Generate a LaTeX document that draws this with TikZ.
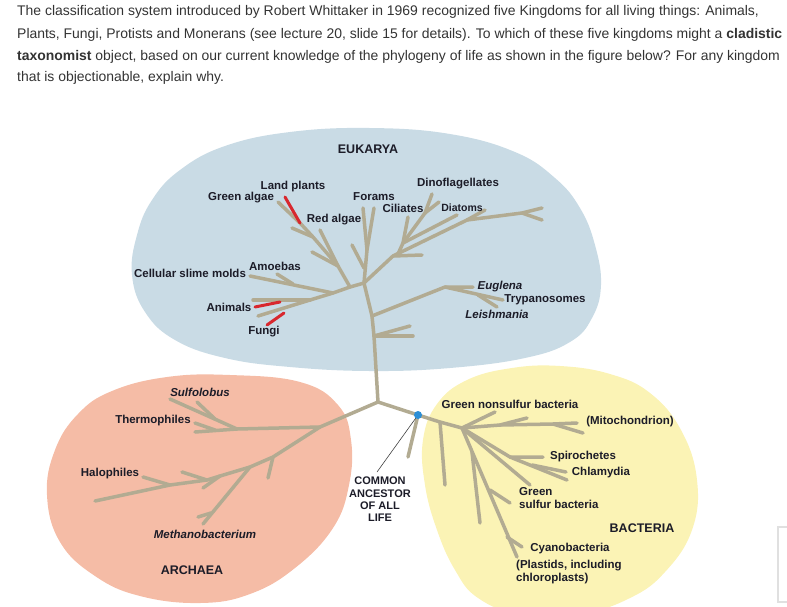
\documentclass[tikz,border=0pt]{standalone}
\usepackage{fontspec}
\setmainfont{Liberation Sans}
\definecolor{eukc}{HTML}{C9DBE5}
\definecolor{arcc}{HTML}{F5BCA6}
\definecolor{bacc}{HTML}{FBF3B5}
\definecolor{treec}{HTML}{B2AB92}
\definecolor{redc}{HTML}{D8282E}
\definecolor{dotc}{HTML}{2B8ED6}
\definecolor{labc}{HTML}{1C1C28}
\definecolor{headc}{HTML}{333333}
\tikzset{
  tree/.style={draw=treec,line width=3.5pt,line cap=round,line join=round},
  redb/.style={draw=redc,line width=3pt,line cap=round},
  lab/.style={font=\bfseries\fontsize{11.5}{13}\selectfont,text=labc,inner sep=0pt},
  itl/.style={font=\bfseries\itshape\fontsize{11.5}{13}\selectfont,text=labc,inner sep=0pt},
  dom/.style={font=\bfseries\fontsize{12.5}{14}\selectfont,text=labc,inner sep=0pt},
  head/.style={font=\fontsize{13.95}{16}\selectfont,text=headc,inner sep=0pt,anchor=west},
}
\begin{document}
\begin{tikzpicture}[x=1pt,y=-1pt]
\useasboundingbox (0,0) rectangle (787,606);
\clip (0,0) rectangle (787,606);
% header text
\node[head] (h1) at (17,12) {The classification system introduced by Robert Whittaker in 1969 recognized five Kingdoms for all living things: Animals,};
\node[head] (h2) at (17,35) {Plants, Fungi, Protists and Monerans (see lecture 20, slide 15 for details). To which of these five kingdoms might a \textbf{cladistic}};
\node[head] (h3) at (17,57) {\textbf{taxonomist} object, based on our current knowledge of the phylogeny of life as shown in the figure below? For any kingdom};
\node[head] (h4) at (17,78) {that is objectionable, explain why.};
% domain regions
\fill[eukc] plot[smooth cycle,tension=0.7] coordinates {(132,275) (137,235) (152,200) (180,170) (225,146) (290,132) (370,128) (450,134) (515,152) (555,178) (580,208) (595,245) (601,285) (592,318) (570,342) (525,358) (450,368) (370,371) (290,367) (225,358) (175,340) (145,312)};
\fill[arcc] plot[smooth cycle,tension=0.7] coordinates {(230,375) (300,382) (338,405) (351,440) (349,485) (333,528) (295,568) (250,594) (200,603) (140,596) (95,576) (60,542) (47,495) (55,450) (78,414) (112,391) (167,377)};
\fill[bacc] plot[smooth cycle,tension=0.7] coordinates {(423,440) (437,404) (467,380) (512,368) (560,366) (610,374) (650,393) (681,430) (697,480) (692,530) (665,572) (630,598) (580,614) (520,614) (478,598) (455,570) (437,530) (425,485)};
% faint box at right edge
\draw[draw=black!12,line width=1.3pt] (778,527) rectangle (800,602);
% ---------- coordinates ----------
\coordinate (R) at (378,402);
\coordinate (T1) at (374,336);
\coordinate (T2) at (372,316);
\coordinate (E) at (364,283);
\coordinate (LS1) at (410,326);
\coordinate (LS2) at (413,336);
\coordinate (EJ) at (445,287);
\coordinate (EU) at (473,287);
\coordinate (TR) at (503,300);
\coordinate (LJ) at (478,295);
\coordinate (LE) at (497,307);
\coordinate (FO) at (367,250);
\coordinate (FO1) at (363,208);
\coordinate (FO2) at (374,208);
\coordinate (FS0) at (364,268);
\coordinate (FS) at (352,245);
\coordinate (A1) at (393,256);
\coordinate (A3) at (467,220);
\coordinate (A4) at (522,213);
\coordinate (A5) at (542,208);
\coordinate (A6) at (542,220);
\coordinate (A1s) at (422,255);
\coordinate (M1) at (398,254);
\coordinate (F) at (403,243);
\coordinate (CI) at (408,217);
\coordinate (G) at (425,213);
\coordinate (DI1) at (432,194);
\coordinate (DI2) at (439,202);
\coordinate (DT) at (457,215);
\coordinate (DTs) at (485,210);
\coordinate (P) at (350,287);
\coordinate (S) at (333,293);
\coordinate (L) at (310,300);
\coordinate (LO) at (258,316);
\coordinate (SM) at (250,276);
\coordinate (AM0) at (293,284);
\coordinate (AM) at (277,274);
\coordinate (AN) at (253,300);
\coordinate (RA1) at (255,307);
\coordinate (RA2) at (280,302);
\coordinate (RF1) at (267,325);
\coordinate (RF2) at (284,313);
\coordinate (Q1) at (338,266);
\coordinate (Q2) at (313,237);
\coordinate (Q3) at (300,223);
\coordinate (GA) at (278,202);
\coordinate (LP) at (285,197);
\coordinate (RAL) at (320,230);
\coordinate (QS) at (312,252);
\coordinate (QS2) at (292,228);
% archaea
\coordinate (AJ) at (320,427);
\coordinate (AH1) at (237,429);
\coordinate (TH) at (195,432);
\coordinate (SU) at (170,399);
\coordinate (SUs0) at (215,419);
\coordinate (SUs) at (197,402);
\coordinate (THs0) at (215,430);
\coordinate (THs) at (195,423);
\coordinate (AK1) at (273,457);
\coordinate (AK2) at (250,467);
\coordinate (AK3) at (220,476);
\coordinate (AK4) at (207,480);
\coordinate (AK5) at (170,485);
\coordinate (HA) at (95,501);
\coordinate (AK1s) at (268,478);
\coordinate (ME) at (203,524);
\coordinate (MEs0) at (211,513);
\coordinate (MEs) at (198,517);
\coordinate (AK3s) at (203,488);
\coordinate (HAs) at (143,477);
\coordinate (HAs2) at (182,472);
% bacteria
\coordinate (D) at (418,415);
\coordinate (B1) at (440,422);
\coordinate (BJ) at (462,428);
\coordinate (Ds) at (408,457);
\coordinate (B1s) at (445,485);
\coordinate (GN) at (495,412);
\coordinate (BM1) at (500,425);
\coordinate (BM2) at (553,424);
\coordinate (MI) at (577,423);
\coordinate (BM1s) at (527,418);
\coordinate (BM2s) at (583,433);
\coordinate (SP) at (510,457);
\coordinate (SPe) at (543,457);
\coordinate (CH) at (567,480);
\coordinate (CHs0) at (532,465);
\coordinate (CHs) at (566,472);
\coordinate (GS) at (530,485);
\coordinate (CY) at (517,557);
\coordinate (CY1) at (472,452);
\coordinate (CY1e) at (480,523);
\coordinate (CY2) at (490,490);
\coordinate (CY2e) at (510,503);
\coordinate (CY3) at (507,537);
\coordinate (CY3e) at (522,547);
\coordinate (PT) at (377,472);
% ---------- tree ----------
\draw[tree] (R) -- (T1) -- (T2) -- (E);
\draw[tree] (T1) -- (LS1);
\draw[tree] (T1) -- (LS2);
\draw[tree] (T2) -- (EJ) -- (EU);
\draw[tree] (EJ) -- (TR);
\draw[tree] (LJ) -- (LE);
\draw[tree] (E) -- (FO) -- (FO1);
\draw[tree] (FO) -- (FO2);
\draw[tree] (FS0) -- (FS);
\draw[tree] (E) -- (A1) -- (A3) -- (A4) -- (A5);
\draw[tree] (A4) -- (A6);
\draw[tree] (A1) -- (A1s);
\draw[tree] (M1) -- (F) -- (CI);
\draw[tree] (F) -- (G) -- (DI1);
\draw[tree] (G) -- (DI2);
\draw[tree] (F) -- (DT);
\draw[tree] (A3) -- (DTs);
\draw[tree] (E) -- (P) -- (S) -- (L) -- (LO);
\draw[tree] (S) -- (SM);
\draw[tree] (AM0) -- (AM);
\draw[tree] (L) -- (AN);
\draw[tree] (P) -- (Q1) -- (Q2) -- (Q3) -- (GA);
\draw[tree] (RAL) -- (Q1);
\draw[tree] (QS) -- (Q1);
\draw[tree] (QS2) -- (Q2);
\draw[redb] (LP) -- (Q3);
\draw[redb] (RA1) -- (RA2);
\draw[redb] (RF1) -- (RF2);
% archaea
\draw[tree] (R) -- (AJ) -- (AH1) -- (TH);
\draw[tree] (AH1) -- (SU);
\draw[tree] (SUs0) -- (SUs);
\draw[tree] (THs0) -- (THs);
\draw[tree] (AJ) -- (AK1) -- (AK2) -- (AK3) -- (AK4) -- (AK5) -- (HA);
\draw[tree] (AK1) -- (AK1s);
\draw[tree] (AK2) -- (ME);
\draw[tree] (MEs0) -- (MEs);
\draw[tree] (AK3) -- (AK3s);
\draw[tree] (AK5) -- (HAs);
\draw[tree] (AK4) -- (HAs2);
% bacteria
\draw[tree] (R) -- (D) -- (B1) -- (BJ);
\draw[tree] (D) -- (Ds);
\draw[tree] (B1) -- (B1s);
\draw[tree] (BJ) -- (GN);
\draw[tree] (BJ) -- (BM1) -- (BM2) -- (MI);
\draw[tree] (BM1) -- (BM1s);
\draw[tree] (BM2) -- (BM2s);
\draw[tree] (BJ) -- (SP) -- (SPe);
\draw[tree] (SP) -- (CH);
\draw[tree] (CHs0) -- (CHs);
\draw[tree] (BJ) -- (GS);
\draw[tree] (BJ) -- (CY);
\draw[tree] (CY1) -- (CY1e);
\draw[tree] (CY2) -- (CY2e);
\draw[tree] (CY3) -- (CY3e);
\draw[draw=black!75,line width=0.6pt] (D) -- (PT);
\node[circle,fill=dotc,minimum size=8pt,inner sep=0pt] (dot) at (D) {};
% ---------- labels ----------
\node[dom] (euk) at (368,149) {EUKARYA};
\node[lab] (lplants) at (293,187) {Land plants};
\node[lab] (galgae) at (241,198) {Green algae};
\node[lab] (forams) at (374,197) {Forams};
\node[lab] (cil) at (403,208) {Ciliates};
\node[lab] (dino) at (458,184) {Dinoflagellates};
\node[lab,font=\bfseries\fontsize{10.5}{12}\selectfont] (diat) at (462,208) {Diatoms};
\node[lab] (ralgae) at (334,220) {Red algae};
\node[lab] (amoe) at (275,266) {Amoebas};
\node[lab] (slime) at (190,273) {Cellular slime molds};
\node[lab] (anim) at (229,307) {Animals};
\node[lab] (fungi) at (264,332) {Fungi};
\node[itl] (eugl) at (500,287) {Euglena};
\node[lab] (tryp) at (545,300) {Trypanosomes};
\node[itl] (leish) at (497,314) {Leishmania};
\node[itl] (sulf) at (200,392) {Sulfolobus};
\node[lab] (therm) at (153,421) {Thermophiles};
\node[lab] (halo) at (110,474) {Halophiles};
\node[itl] (meth) at (205,534) {Methanobacterium};
\node[dom] (arch) at (192,570) {ARCHAEA};
\node[lab,align=center,font=\bfseries\fontsize{11}{12.4}\selectfont] (common) at (380,499.5) {COMMON\\ANCESTOR\\OF ALL\\LIFE};
\node[lab] (gnsb) at (510,404) {Green nonsulfur bacteria};
\node[lab] (mito) at (630,422) {(Mitochondrion)};
\node[lab] (spiro) at (583,457) {Spirochetes};
\node[lab] (chlam) at (601,473) {Chlamydia};
\node[lab,align=left,anchor=west] (gsb) at (519,498.5) {Green\\sulfur bacteria};
\node[dom] (bact) at (642,528) {BACTERIA};
\node[lab] (cyano) at (570,549) {Cyanobacteria};
\node[lab,align=left,anchor=west] (plast) at (516,572.5) {(Plastids, including\\chloroplasts)};
\end{tikzpicture}
\end{document}
